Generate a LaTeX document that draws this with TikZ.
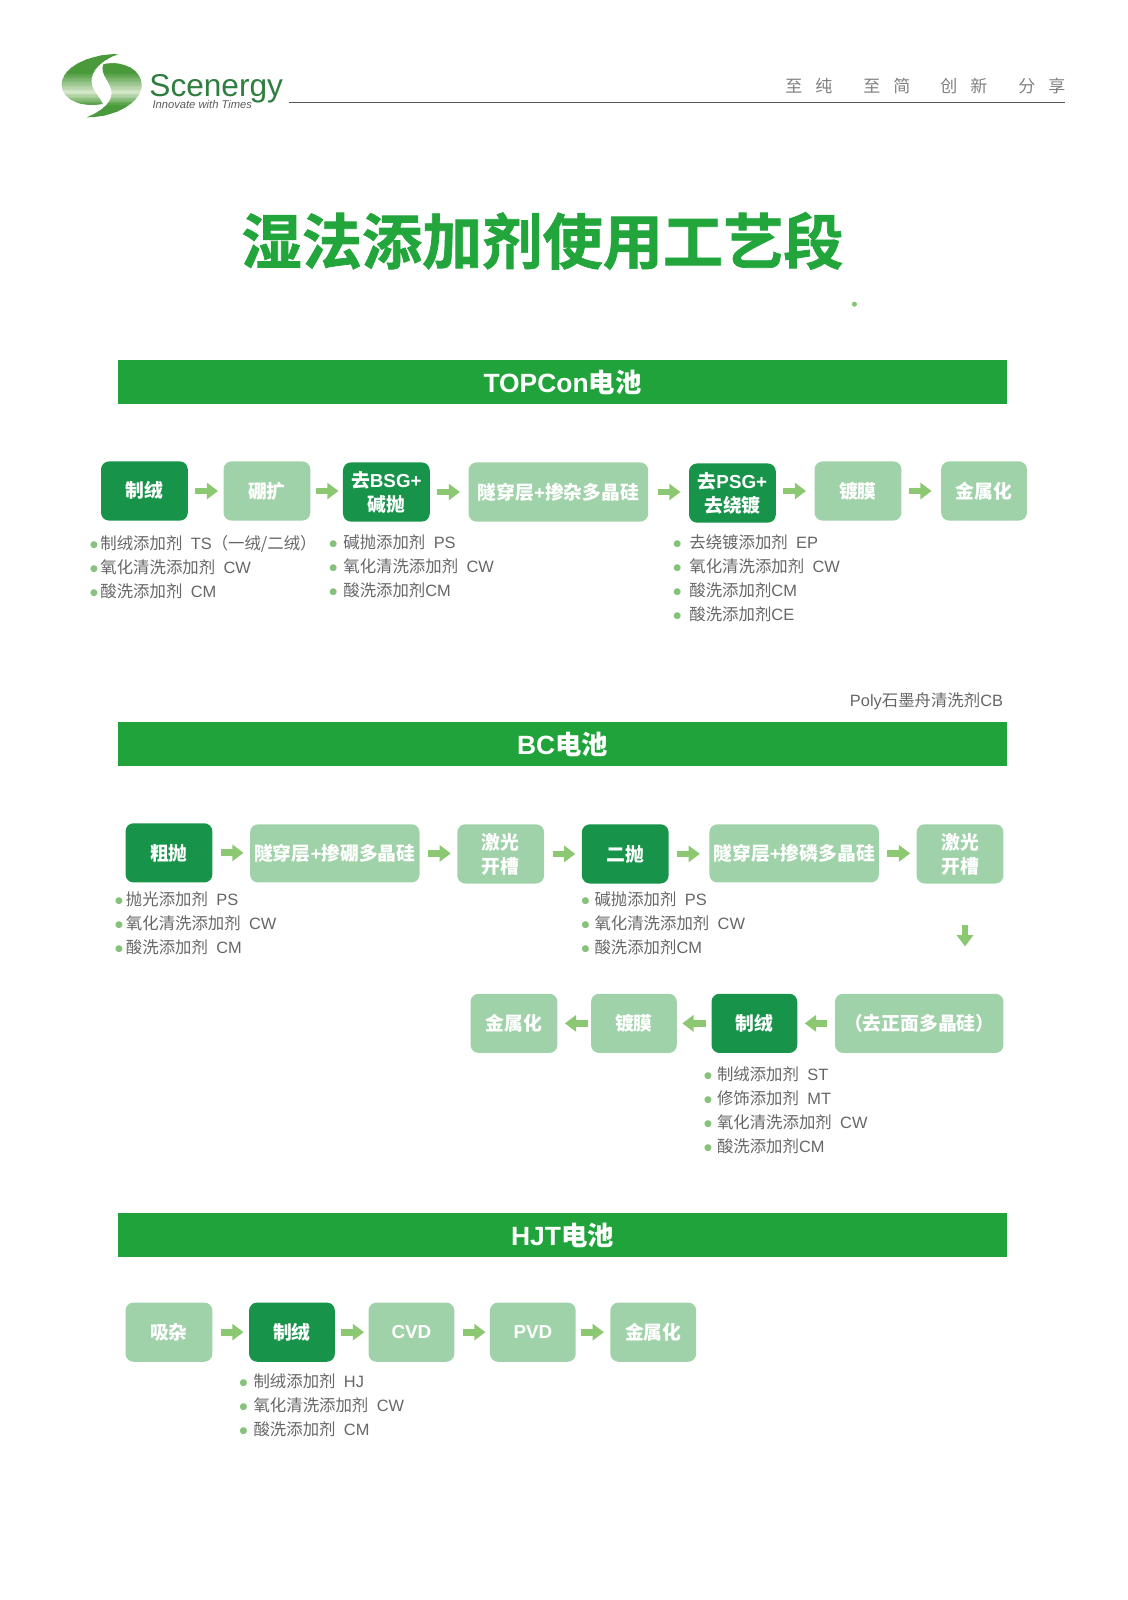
\documentclass[tikz,border=0pt]{standalone}
\usepackage{fontspec}
\usetikzlibrary{arrows.meta}
\setmainfont{Noto Sans CJK SC}
\newfontfamily\dejavu{DejaVu Sans}
\newfontfamily\arialf{Liberation Sans}
\newfontfamily\titlef[FakeBold=1.2]{Noto Sans CJK SC Bold}
\definecolor{bannerg}{HTML}{1FA33A}
\definecolor{titleg}{HTML}{22A63C}
\definecolor{darkg}{HTML}{17934A}
\definecolor{lightg}{HTML}{9FD2A8}
\definecolor{arrowg}{HTML}{8CC771}
\definecolor{bulg}{HTML}{85C27A}
\definecolor{txtg}{HTML}{666666}
\definecolor{logog}{HTML}{2F7D3F}
\definecolor{logodk}{HTML}{4A9A3C}
\definecolor{logolt}{HTML}{D8E8CC}
\newdimen\listunit \listunit=0.5104pt
\def\blw{2.5}
\newcommand\bl{\llap{{\dejavu\fontsize{4.5pt}{5pt}\selectfont\color{bulg}\raisebox{1pt}{●}}\hspace{\blw\listunit}}}
\newcommand\la[1]{\hspace{4.2pt}{\arialf #1}}
\newcommand\lb[1]{{\arialf #1}}
\tikzset{
  x=0.5104pt,y=-0.5104pt,
  procbase/.style={rounded corners=4pt,inner sep=0pt,align=center,text=white,
     font=\bfseries\fontsize{9.4pt}{12pt}\selectfont},
  dk/.style={procbase,fill=darkg},
  lt/.style={procbase,fill=lightg},
  banner/.style={fill=bannerg,inner sep=0pt,text=white,minimum width=444.05pt,minimum height=22pt,
     font=\bfseries\fontsize{13.2pt}{15pt}\selectfont},
  flow/.style 2 args={draw=arrowg,line width=3.4pt,-{Triangle[length=5.6pt,width=8pt]},
     shorten <=#1*0.5104pt,shorten >=#2*0.5104pt},
  listing/.style={anchor=west,inner sep=0pt,align=left,text=txtg,
     font=\fontsize{8.2pt}{12pt}\selectfont,execute at begin node={\def\blw{#1}}},
}
\newcommand\bx[7]{\node[#6,minimum width={(#3-#2)*0.5104pt},minimum height={(#5-#4)*0.5104pt}] (#1) at ({(#2+#3)/2},{(#4+#5)/2}) {#7};}
\newcommand\logostrips{%
  \foreach \i in {60,64,...,270}{%
    \pgfmathtruncatemacro\p{max(0,100-abs(\i-185)*(\i<185?1.7:2.5))}%
    \fill[logolt!\p!logodk] (50,\i) rectangle (320,\i+5);%
  }}
\begin{document}
\begin{tikzpicture}
\useasboundingbox (0,0) rectangle (1104.1,1567.4);
% logo
\begin{scope}[shift={(39.18,29.39)},scale=0.3265]
\begin{scope}
\clip (235,72) .. controls (150,72) and (65,110) .. (65,165) .. controls (65,205) and (120,235) .. (188,222)
  .. controls (178,195) and (150,180) .. (155,145) .. controls (160,110) and (200,85) .. (235,72) -- cycle;
\logostrips
\end{scope}
\begin{scope}
\clip (140,262) .. controls (230,262) and (305,215) .. (305,165) .. controls (305,120) and (250,90) .. (190,103)
  .. controls (178,135) and (215,155) .. (215,190) .. controls (215,225) and (170,250) .. (140,262) -- cycle;
\logostrips
\end{scope}
\end{scope}
\node[anchor=base west,inner sep=0pt,text=logog,font=\arialf\fontsize{15.8pt}{18pt}\selectfont] (brand) at (146,95) {Scenergy};
\node[anchor=base west,inner sep=0pt,text=black!65,font=\arialf\itshape\fontsize{5.6pt}{6pt}\selectfont] (tag) at (149,106.5) {Innovate with Times};
\draw[black!65,line width=0.7pt] (283,100.5) -- (1043,100.5);
\node[anchor=base west,inner sep=0pt,text=black!50,font=\fontsize{8.5pt}{10pt}\selectfont] (motto) at (769,91)
 {至\hspace{6.5pt}纯\hspace{15.5pt}至\hspace{6.5pt}简\hspace{15pt}创\hspace{6.5pt}新\hspace{15.5pt}分\hspace{6.5pt}享};
% title
\node[text=titleg,inner sep=0pt,font=\titlef\fontsize{30.1pt}{34pt}\selectfont] (title) at (531.5,236) {湿法添加剂使用工艺段};
\fill[bulg] (837,298) circle (2.5);
% TOPCon
\node[banner] (b1) at (551,374.5) {\lb{TOPCon}电池};
\bx{a1}{99}{184}{452}{510}{dk}{制绒}
\bx{a2}{219}{304}{452}{510}{lt}{硼扩}
\bx{a3}{336}{421}{453}{511}{dk}{去\lb{BSG+}\\碱抛}
\bx{a4}{459}{635}{453}{511}{lt}{隧穿层\lb{+}掺杂多晶硅}
\bx{a5}{675}{760}{454}{512}{dk}{去\lb{PSG+}\\去绕镀}
\bx{a6}{798}{883}{452}{510}{lt}{镀膜}
\bx{a7}{922}{1006}{452}{510}{lt}{金属化}
\draw[flow={7}{5}] (a1.east) -- (a1.east -| a2.west);
\draw[flow={5}{4}] (a2.east) -- (a2.east -| a3.west);
\draw[flow={7}{8}] (a3.east) -- (a3.east -| a4.west);
\draw[flow={9}{8}] (a4.east) -- (a4.east -| a5.west);
\draw[flow={7}{8}] (a6.west -| a5.east) -- (a6.west);
\draw[flow={7}{9}] (a6.east) -- (a6.east -| a7.west);
\node[listing=2.5] (l1) at (98,556) {\bl 制绒添加剂\la{TS}（一绒/二绒）\\\bl 氧化清洗添加剂\la{CW}\\\bl 酸洗添加剂\la{CM}};
\node[listing=6] (l2) at (336,554.5) {\bl 碱抛添加剂\la{PS}\\\bl 氧化清洗添加剂\la{CW}\\\bl 酸洗添加剂\lb{CM}};
\node[listing=8] (l3) at (675,566) {\bl 去绕镀添加剂\la{EP}\\\bl 氧化清洗添加剂\la{CW}\\\bl 酸洗添加剂\lb{CM}\\\bl 酸洗添加剂\lb{CE}};
\node[anchor=east,inner sep=0pt,text=txtg,font=\fontsize{8.2pt}{12pt}\selectfont] (poly) at (983,687) {\lb{Poly}石墨舟清洗剂\lb{CB}};
% BC
\node[banner] (b2) at (551,729) {\lb{BC}电池};
\bx{c1}{123}{208}{806.5}{864.5}{dk}{粗抛}
\bx{c2}{245}{411}{807.5}{864.5}{lt}{隧穿层\lb{+}掺硼多晶硅}
\bx{c3}{448}{533}{807.5}{865.5}{lt}{激光\\开槽}
\bx{c4}{570}{655}{807.5}{865.5}{dk}{二抛}
\bx{c5}{695}{861}{807.5}{864.5}{lt}{隧穿层\lb{+}掺磷多晶硅}
\bx{c6}{898}{983}{807.5}{865.5}{lt}{激光\\开槽}
\draw[flow={8}{6}] (c1.east) -- (c1.east -| c2.west);
\draw[flow={8}{6}] (c2.east) -- (c2.east -| c3.west);
\draw[flow={8}{6}] (c3.east) -- (c3.east -| c4.west);
\draw[flow={8}{9}] (c4.east) -- (c4.east -| c5.west);
\draw[flow={8}{6}] (c5.east) -- (c5.east -| c6.west);
\node[listing=3] (l4) at (123,904.5) {\bl 抛光添加剂\la{PS}\\\bl 氧化清洗添加剂\la{CW}\\\bl 酸洗添加剂\la{CM}};
\node[listing=5] (l5) at (582,904.5) {\bl 碱抛添加剂\la{PS}\\\bl 氧化清洗添加剂\la{CW}\\\bl 酸洗添加剂\lb{CM}};
\bx{d4}{818}{983}{973.5}{1031.5}{lt}{（去正面多晶硅）}
\bx{d3}{697}{781}{973.5}{1031.5}{dk}{制绒}
\bx{d2}{579}{663}{973.5}{1031.5}{lt}{镀膜}
\bx{d1}{461}{546}{973.5}{1031.5}{lt}{金属化}
\draw[flow={40}{46}] ([xshift=2.5pt]c6.south) -- ([xshift=2.5pt]c6.south |- d4.north);
\draw[flow={7}{7}] (d4.west) -- (d4.west -| d3.east);
\draw[flow={5}{5}] (d3.west) -- (d3.west -| d2.east);
\draw[flow={3}{7}] (d2.west) -- (d2.west -| d1.east);
\node[listing=5] (l6) at (702,1087.5) {\bl 制绒添加剂\la{ST}\\\bl 修饰添加剂\la{MT}\\\bl 氧化清洗添加剂\la{CW}\\\bl 酸洗添加剂\lb{CM}};
% HJT
\node[banner] (b3) at (551,1210) {\lb{HJT}电池};
\bx{e1}{123}{208}{1276}{1334}{lt}{吸杂}
\bx{e2}{244}{328}{1276}{1334}{dk}{制绒}
\bx{e3}{361}{445}{1276}{1334}{lt}{\lb{CVD}}
\bx{e4}{480}{564}{1276}{1334}{lt}{\lb{PVD}}
\bx{e5}{598}{682}{1276}{1334}{lt}{金属化}
\draw[flow={8}{5}] (e1.east) -- (e1.east -| e2.west);
\draw[flow={6}{4}] (e2.east) -- (e2.east -| e3.west);
\draw[flow={8}{4}] (e3.east) -- (e3.east -| e4.west);
\draw[flow={5}{6}] (e4.east) -- (e4.east -| e5.west);
\node[listing=6] (l7) at (248,1376.5) {\bl 制绒添加剂\la{HJ}\\\bl 氧化清洗添加剂\la{CW}\\\bl 酸洗添加剂\la{CM}};
\end{tikzpicture}
\end{document}
